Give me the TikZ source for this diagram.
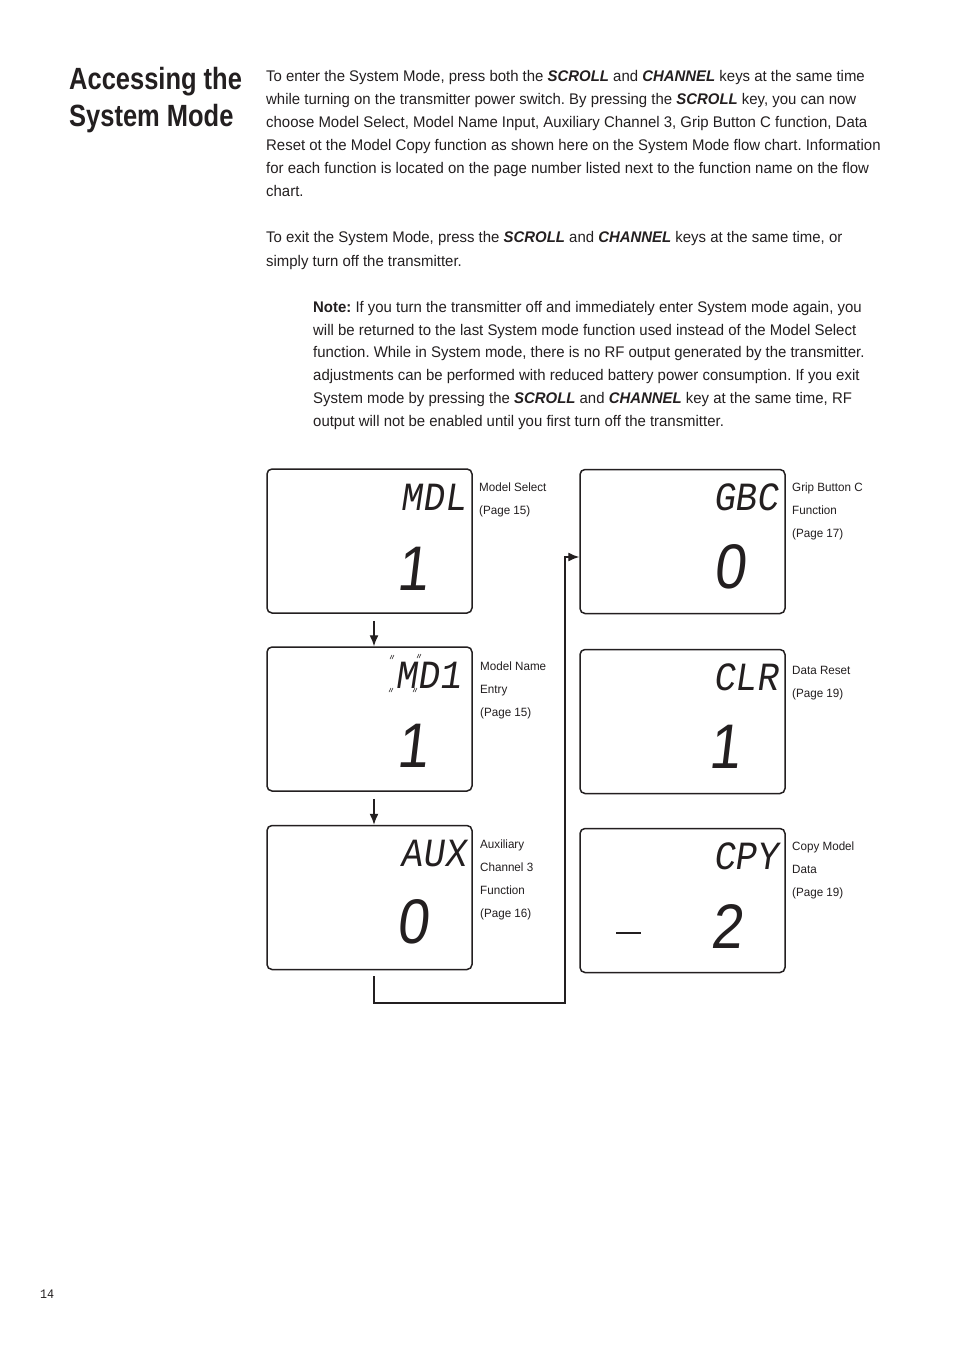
\documentclass[tikz,border=0pt]{standalone}
\usepackage{fontspec}
\setmainfont{Liberation Sans}[FakeStretch=0.97]
\newfontfamily\titlefont{Liberation Sans}[FakeStretch=0.83]
\newfontfamily\lcdfont{Liberation Mono}[FakeSlant=0.15,FakeStretch=0.9]
\newfontfamily\lcddigit{Liberation Sans}[FakeSlant=0.12,FakeStretch=0.9]
\newfontfamily\pgfont{Liberation Mono}[FakeStretch=0.9]
\usetikzlibrary{arrows.meta}
\definecolor{ink}{HTML}{231F20}
\newcommand\kw[1]{\textbf{\textit{#1}}}
\begin{document}
\frenchspacing
\begin{tikzpicture}[x=1pt,y=-1pt,
  body/.style={anchor=base west,inner sep=0pt,font=\frenchspacing\fontsize{15.4}{18}\selectfont,text=ink},
  lab/.style={anchor=base west,inner sep=0pt,font=\fontsize{12}{14}\selectfont,text=ink},
  lcdbox/.style={draw=ink,line width=1.5pt,rounded corners=5pt,minimum width=205pt,minimum height=144pt,inner sep=0pt},
  lcdtop/.style={anchor=base east,inner sep=0pt,font=\lcdfont\fontsize{40}{40}\selectfont,text=ink},
  lcdbig/.style={anchor=base,inner sep=0pt,font=\lcddigit\fontsize{63}{63}\selectfont,text=ink},
  flow/.style={draw=ink,line width=1.3pt},
  arr/.style={flow,-{Latex[length=11pt,width=9pt]}},
  title/.style={anchor=base west,inner sep=0pt,font=\titlefont\bfseries\fontsize{30.7}{34}\selectfont,text=ink}]
\fill[white] (0,0) rectangle (954,1356);
\useasboundingbox (0,0) rectangle (954,1356);

% title
\node[title] (t1) at (69,90) {Accessing the};
\node[title] (t2) at (69,127) {System Mode};

% paragraph 1
\node[body] (p1) at (266,82) {To enter the System Mode, press both the \kw{SCROLL} and \kw{CHANNEL} keys at the same time};
\node[body] (p2) at (266,105) {while turning on the transmitter power switch. By pressing the \kw{SCROLL} key, you can now};
\node[body] (p3) at (266,128) {choose Model Select, Model Name Input, Auxiliary Channel 3, Grip Button C function, Data};
\node[body] (p4) at (266,151) {Reset ot the Model Copy function as shown here on the System Mode flow chart. Information};
\node[body] (p5) at (266,174) {for each function is located on the page number listed next to the function name on the flow};
\node[body] (p6) at (266,197) {chart.};
% paragraph 2
\node[body] (q1) at (266,243) {To exit the System Mode, press the \kw{SCROLL} and \kw{CHANNEL} keys at the same time, or};
\node[body] (q2) at (266,266) {simply turn off the transmitter.};
% note
\node[body] (n1) at (313,312) {\textbf{Note:} If you turn the transmitter off and immediately enter System mode again, you};
\node[body] (n2) at (313,335) {will be returned to the last System mode function used instead of the Model Select};
\node[body] (n3) at (313,357.5) {function. While in System mode, there is no RF output generated by the transmitter.};
\node[body] (n4) at (313,380) {adjustments can be performed with reduced battery power consumption. If you exit};
\node[body] (n5) at (313,403) {System mode by pressing the \kw{SCROLL} and \kw{CHANNEL} key at the same time, RF};
\node[body] (n6) at (313,426) {output will not be enabled until you first turn off the transmitter.};

% LCD boxes
\node[lcdbox] (b1) at (369.5,541) {};
\node[lcdbox] (b2) at (369.5,719) {};
\node[lcdbox] (b3) at (369.5,897.5) {};
\node[lcdbox] (b4) at (682.5,541.5) {};
\node[lcdbox] (b5) at (682.5,721.5) {};
\node[lcdbox] (b6) at (682.5,900.5) {};

% LCD texts
\node[lcdtop] (d1) at (466,510) {MDL};
\node[lcdtop] (d2) at (461,688) {MD1};
\node[lcdtop] (d3) at (466,866) {AUX};
\node[lcdtop] (d4) at (778,510) {GBC};
\node[lcdtop] (d5) at (778,690) {CLR};
\node[lcdtop] (d6) at (778,869) {CPY};
\node[lcdbig] (e1) at (412,590) {1};
\node[lcdbig] (e2) at (412,767) {1};
\node[lcdbig] (e3) at (412,943) {0};
\node[lcdbig] (e4) at (729,588) {0};
\node[lcdbig] (e5) at (724,768) {1};
\node[lcdbig] (e6) at (726,948) {2};
\draw[ink,line width=1.5pt] (616,933) -- (641,933);
% blinking marks around M
\foreach \bx/\by in {392/657,419/656,391/690,415/690}{
  \draw[ink,line width=0.5pt] (\bx-2,\by+2) -- (\bx,\by-2) (\bx,\by+2) -- (\bx+2,\by-2);
}

% labels
\node[lab] (l1a) at (479,491) {Model Select};
\node[lab] (l1b) at (479,514) {(Page 15)};
\node[lab] (l2a) at (480,670) {Model Name};
\node[lab] (l2b) at (480,693) {Entry};
\node[lab] (l2c) at (480,716) {(Page 15)};
\node[lab] (l3a) at (480,848) {Auxiliary};
\node[lab] (l3b) at (480,871) {Channel 3};
\node[lab] (l3c) at (480,894) {Function};
\node[lab] (l3d) at (480,917) {(Page 16)};
\node[lab] (l4a) at (792,491) {Grip Button C};
\node[lab] (l4b) at (792,514) {Function};
\node[lab] (l4c) at (792,537) {(Page 17)};
\node[lab] (l5a) at (792,674) {Data Reset};
\node[lab] (l5b) at (792,697) {(Page 19)};
\node[lab] (l6a) at (792,850) {Copy Model};
\node[lab] (l6b) at (792,873) {Data};
\node[lab] (l6c) at (792,896) {(Page 19)};

% connectors
\coordinate (ax) at (374,0);
\coordinate (c1) at (374,1003);
\coordinate (c2) at (565,1003);
\coordinate (c3) at (565,557);
\draw[arr,shorten <=7pt] (b1.south -| ax) -- (b2.north -| ax);
\draw[arr,shorten <=7pt] (b2.south -| ax) -- (b3.north -| ax);
\draw[arr,shorten <=6pt] (b3.south -| ax) -- (c1) -- (c2) -- (c3) -- (c3 -| b4.west);

% page number
\node[lab,font=\pgfont\fontsize{13}{14}\selectfont] (pg) at (40,1298) {14};
\end{tikzpicture}
\end{document}
